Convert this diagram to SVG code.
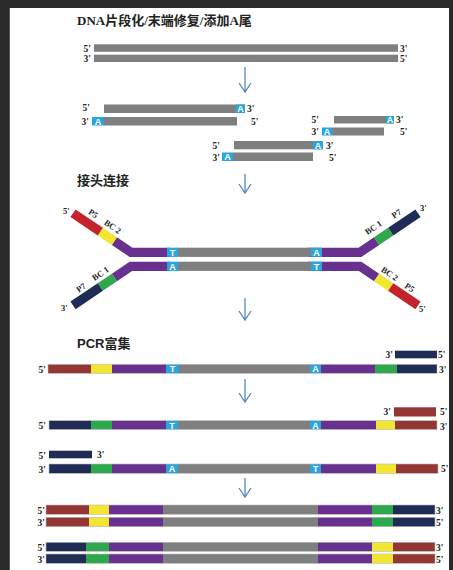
<svg xmlns="http://www.w3.org/2000/svg" width="453" height="570" viewBox="0 0 453 570">
<style>
.g{fill:#7f7f7f}.p{fill:#68318f}.y{fill:#f1e733}.gr{fill:#2ea84c}.n{fill:#1f2d56}.r{fill:#943634}.rb{fill:#c4232b}.b{fill:#29a6dd}
.lb{font-family:"Liberation Serif","Noto Sans CJK SC",serif;font-weight:bold;font-size:9.5px;fill:#222}
.al{font-family:"Liberation Serif","Noto Sans CJK SC",serif;font-weight:bold;font-size:8.5px;fill:#222}
.bx{font-family:"Liberation Sans",Arial,sans-serif;font-weight:bold;font-size:9px;fill:#fff;text-anchor:middle}
.t1{font-family:"Liberation Serif","Noto Sans CJK SC",serif;font-weight:bold;font-size:13px;fill:#222}
.t2{font-family:"Liberation Sans","Noto Sans CJK SC",sans-serif;font-weight:bold;font-size:13px;fill:#222}
.e{text-anchor:end}
.ar{stroke:#5a86c4;stroke-width:1.3;fill:none}
.ol{fill:none;stroke:#b8b8b8;stroke-width:0.6}
</style>
<rect width="453" height="570" fill="#2b2b2b"/>
<rect x="9" y="8" width="1" height="562" fill="#5a5a5a"/>
<rect x="10" y="8" width="439" height="562" fill="#ffffff"/>

<g id="title1"><text class="t1" x="77" y="25">DNA片段化/末端修复/添加A尾</text></g>

<g id="dna">
<rect class="g" x="94" y="44.3" width="304" height="7.5"/>
<rect class="g" x="94" y="54.7" width="304" height="7.3"/>
<text class="lb e" x="91" y="51.5">5'</text><text class="lb e" x="91" y="62">3'</text>
<text class="lb" x="400" y="51.5">3'</text><text class="lb" x="400" y="62">5'</text>
</g>

<g id="frag1">
<rect class="g" x="104" y="104.5" width="141" height="8.5"/><rect class="b" x="236" y="104.5" width="9" height="8.5"/><text class="bx" x="240.5" y="112">A</text>
<rect class="b" x="92" y="117" width="12" height="8.5"/><rect class="g" x="104" y="117" width="133" height="8.5"/><text class="bx" x="98" y="124.5">A</text>
<text class="lb e" x="90" y="111">5'</text><text class="lb" x="247" y="111.5">3'</text>
<text class="lb e" x="89" y="124.5">3'</text><text class="lb" x="251" y="124.5">5'</text>
</g>

<g id="frag2">
<rect class="g" x="334" y="116" width="60" height="7.5"/><rect class="b" x="386" y="116" width="8" height="7.5"/><text class="bx" x="390" y="123">A</text>
<rect class="b" x="322" y="127.5" width="10" height="8"/><rect class="g" x="332" y="127.5" width="52" height="8"/><text class="bx" x="327" y="135">A</text>
<text class="lb e" x="319" y="122.5">5'</text><text class="lb" x="396" y="122.5">3'</text>
<text class="lb e" x="319" y="134.5">3'</text><text class="lb" x="400" y="134.5">5'</text>
</g>

<g id="frag3">
<rect class="g" x="234" y="141" width="89" height="8.3"/><rect class="b" x="313" y="141" width="10" height="8.3"/><text class="bx" x="318" y="148.5">A</text>
<rect class="b" x="222" y="152.5" width="11" height="8.5"/><rect class="g" x="233" y="152.5" width="80" height="8.5"/><text class="bx" x="227.5" y="160">A</text>
<text class="lb e" x="220" y="148.5">5'</text><text class="lb" x="326" y="148.5">3'</text>
<text class="lb e" x="220" y="160.5">3'</text><text class="lb" x="329" y="160.5">5'</text>
</g>

<g id="title2"><text class="t1" x="77" y="185">接头连接</text></g>

<g id="adapter">
<path d="M170,252.3 L131,252.3 L114.4,241.1 M170,266.3 L131,266.3 L114.4,277.5 M308,252.3 L360,252.3 L376.6,241.1 M308,266.3 L360,266.3 L376.6,277.5" stroke="#68318f" stroke-width="9.2" fill="none" stroke-linejoin="miter"/>
<line x1="114.4" y1="241.1" x2="100.3" y2="231.6" stroke="#f1e733" stroke-width="9.2"/>
<line x1="100.3" y1="231.6" x2="73" y2="213.2" stroke="#c4232b" stroke-width="9.2"/>
<line x1="114.4" y1="277.5" x2="100.3" y2="287" stroke="#2ea84c" stroke-width="9.2"/>
<line x1="100.3" y1="287" x2="73" y2="305.4" stroke="#1f2d56" stroke-width="9.2"/>
<line x1="376.6" y1="241.1" x2="390.7" y2="231.6" stroke="#2ea84c" stroke-width="9.2"/>
<line x1="390.7" y1="231.6" x2="418" y2="213.2" stroke="#1f2d56" stroke-width="9.2"/>
<line x1="376.6" y1="277.5" x2="390.7" y2="287" stroke="#f1e733" stroke-width="9.2"/>
<line x1="390.7" y1="287" x2="418" y2="305.4" stroke="#c4232b" stroke-width="9.2"/>
<rect class="b" x="167" y="247.7" width="11" height="9.2"/><rect class="g" x="178" y="247.7" width="133" height="9.2"/><rect class="b" x="311" y="247.7" width="11" height="9.2"/>
<rect class="b" x="167" y="261.7" width="11" height="9.2"/><rect class="g" x="178" y="261.7" width="133" height="9.2"/><rect class="b" x="311" y="261.7" width="11" height="9.2"/>
<text class="bx" x="172.5" y="255.7">T</text><text class="bx" x="316.5" y="255.7">A</text>
<text class="bx" x="172.5" y="269.7">A</text><text class="bx" x="316.5" y="269.7">T</text>
<text class="al" x="63" y="214">5'</text>
<text class="al" transform="translate(91.6,216) rotate(34)" text-anchor="middle">P5</text>
<text class="al" transform="translate(111,229) rotate(34)" text-anchor="middle">BC 2</text>
<text class="al" x="61" y="311">3'</text>
<text class="al" transform="translate(82.6,290) rotate(-34)" text-anchor="middle">P7</text>
<text class="al" transform="translate(102,276) rotate(-34)" text-anchor="middle">BC 1</text>
<text class="al" x="420" y="211">3'</text>
<text class="al" transform="translate(375,230) rotate(-34)" text-anchor="middle">BC 1</text>
<text class="al" transform="translate(398,216) rotate(-34)" text-anchor="middle">P7</text>
<text class="al" x="419" y="312">5'</text>
<text class="al" transform="translate(388,276) rotate(34)" text-anchor="middle">BC 2</text>
<text class="al" transform="translate(408,290) rotate(34)" text-anchor="middle">P5</text>
</g>

<g id="title3"><text class="t2" x="77" y="348">PCR富集</text></g>

<g id="pcr1">
<rect class="n" x="395" y="350.7" width="42" height="7.6"/>
<text class="lb e" x="393" y="358">3'</text><text class="lb" x="438" y="358">5'</text>
<rect class="r" x="48" y="364.3" width="43" height="9"/><rect class="y" x="91" y="364.3" width="21" height="9"/><rect class="p" x="112" y="364.3" width="54" height="9"/><rect class="b" x="166" y="364.3" width="13" height="9"/><rect class="g" x="179" y="364.3" width="131" height="9"/><rect class="b" x="310" y="364.3" width="11" height="9"/><rect class="p" x="321" y="364.3" width="54" height="9"/><rect class="gr" x="375" y="364.3" width="22" height="9"/><rect class="n" x="397" y="364.3" width="40" height="9"/>
<rect class="ol" x="48" y="364.3" width="389" height="9"/>
<text class="bx" x="172.5" y="372.3">T</text><text class="bx" x="315.5" y="372.3">A</text>
<text class="lb e" x="46" y="372.5">5'</text><text class="lb" x="439" y="372.5">3'</text>
</g>

<g id="pcr2">
<rect class="r" x="394" y="407.3" width="42" height="9.2"/>
<text class="lb e" x="391" y="414.5">3'</text><text class="lb" x="440" y="414.5">5'</text>
<rect class="n" x="49" y="420.7" width="42" height="8.8"/><rect class="gr" x="91" y="420.7" width="21" height="8.8"/><rect class="p" x="112" y="420.7" width="54" height="8.8"/><rect class="b" x="166" y="420.7" width="12" height="8.8"/><rect class="g" x="178" y="420.7" width="132" height="8.8"/><rect class="b" x="310" y="420.7" width="11" height="8.8"/><rect class="p" x="321" y="420.7" width="55" height="8.8"/><rect class="y" x="376" y="420.7" width="19" height="8.8"/><rect class="r" x="395" y="420.7" width="42" height="8.8"/>
<rect class="ol" x="49" y="420.7" width="388" height="8.8"/>
<text class="bx" x="172" y="428.5">T</text><text class="bx" x="315.5" y="428.5">A</text>
<text class="lb e" x="46" y="428.5">5'</text><text class="lb" x="440" y="429.5">3'</text>
</g>

<g id="pcr3">
<rect class="n" x="49" y="450.7" width="43" height="7.6"/>
<text class="lb e" x="46" y="458.5">5'</text><text class="lb" x="97" y="458">3'</text>
<rect class="n" x="49" y="464" width="42" height="9.3"/><rect class="gr" x="91" y="464" width="21" height="9.3"/><rect class="p" x="112" y="464" width="54" height="9.3"/><rect class="b" x="166" y="464" width="12" height="9.3"/><rect class="g" x="178" y="464" width="132" height="9.3"/><rect class="b" x="310" y="464" width="11" height="9.3"/><rect class="p" x="321" y="464" width="55" height="9.3"/><rect class="y" x="376" y="464" width="20" height="9.3"/><rect class="r" x="396" y="464" width="42" height="9.3"/>
<rect class="ol" x="49" y="464" width="389" height="9.3"/>
<text class="bx" x="172" y="472">A</text><text class="bx" x="315.5" y="472">T</text>
<text class="lb e" x="46" y="472.5">3'</text><text class="lb" x="441" y="472">5'</text>
</g>

<g id="pcr4">
<rect class="r" x="46" y="505" width="43" height="9.3"/><rect class="y" x="89" y="505" width="20" height="9.3"/><rect class="p" x="109" y="505" width="54" height="9.3"/><rect class="g" x="163" y="505" width="155" height="9.3"/><rect class="p" x="318" y="505" width="54" height="9.3"/><rect class="gr" x="372" y="505" width="21" height="9.3"/><rect class="n" x="393" y="505" width="42" height="9.3"/>
<rect class="ol" x="46" y="505" width="389" height="9.3"/>
<rect class="r" x="46" y="517.3" width="43" height="9.4"/><rect class="y" x="89" y="517.3" width="20" height="9.4"/><rect class="p" x="109" y="517.3" width="54" height="9.4"/><rect class="g" x="163" y="517.3" width="155" height="9.4"/><rect class="p" x="318" y="517.3" width="54" height="9.4"/><rect class="gr" x="372" y="517.3" width="21" height="9.4"/><rect class="n" x="393" y="517.3" width="42" height="9.4"/>
<rect class="ol" x="46" y="517.3" width="389" height="9.4"/>
<text class="lb e" x="45" y="513.5">5'</text><text class="lb" x="436" y="513.5">3'</text>
<text class="lb e" x="45" y="525.5">3'</text><text class="lb" x="436" y="525.5">5'</text>
</g>

<g id="pcr5">
<rect class="n" x="46" y="542.3" width="40" height="9"/><rect class="gr" x="86" y="542.3" width="23" height="9"/><rect class="p" x="109" y="542.3" width="54" height="9"/><rect class="g" x="163" y="542.3" width="155" height="9"/><rect class="p" x="318" y="542.3" width="54" height="9"/><rect class="y" x="372" y="542.3" width="21" height="9"/><rect class="r" x="393" y="542.3" width="42" height="9"/>
<rect class="ol" x="46" y="542.3" width="389" height="9"/>
<rect class="n" x="46" y="554" width="40" height="9.3"/><rect class="gr" x="86" y="554" width="23" height="9.3"/><rect class="p" x="109" y="554" width="54" height="9.3"/><rect class="g" x="163" y="554" width="155" height="9.3"/><rect class="p" x="318" y="554" width="54" height="9.3"/><rect class="y" x="372" y="554" width="21" height="9.3"/><rect class="r" x="393" y="554" width="42" height="9.3"/>
<rect class="ol" x="46" y="554" width="389" height="9.3"/>
<text class="lb e" x="45" y="550.5">5'</text><text class="lb" x="436" y="550.5">3'</text>
<text class="lb e" x="45" y="562.5">3'</text><text class="lb" x="436" y="562.5">5'</text>
</g>

<g id="connectors">
<path class="ar" d="M245,67 V92 M239,83 L245,92 L251,83"/>
<path class="ar" d="M245,174 V193 M239,184 L245,193 L251,184"/>
<path class="ar" d="M245,298 V320 M239,311 L245,320 L251,311"/>
<path class="ar" d="M245,379 V402 M239,393 L245,402 L251,393"/>
<path class="ar" d="M245,478 V497 M239,488 L245,497 L251,488"/>
</g>
</svg>
